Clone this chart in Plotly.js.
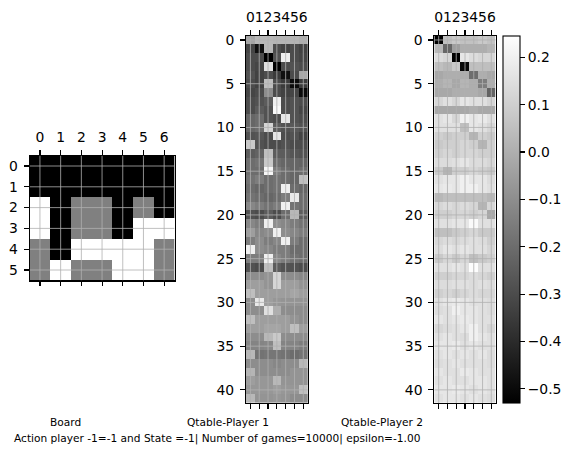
<!DOCTYPE html>
<html>
<head>
<meta charset="utf-8">
<script src="https://cdn.plot.ly/plotly-3.0.1.min.js"></script>
<style>
  body { margin: 0; background: white; }
  #myDiv { width: 574px; height: 454px; }
</style>
</head>
<body>
<div id="myDiv"></div>
<script>
// board + two q tables

var colTicks = [0, 1, 2, 3, 4, 5, 6];
var boardRowTicks = [0, 1, 2, 3, 4, 5];
var qRowTicks = [0, 5, 10, 15, 20, 25, 30, 35, 40];
var cbTicks = [-0.5, -0.4, -0.3, -0.2, -0.1, 0.0, 0.1, 0.2];

var boardTitle = 'Board';
var q1Title = 'Qtable-Player 1';
var q2Title = 'Qtable-Player 2';
var infoText = 'Action player -1=-1 and State =-1| Number of games=10000| epsilon=-1.00';

var board = [
  [-1, -1, -1, -1, -1, -1, -1],
  [-1, -1, -1, -1, -1, -1, -1],
  [ 1, -1,  0,  0, -1,  0, -1],
  [ 1, -1,  0,  0, -1,  1,  1],
  [ 0, -1,  1,  1,  1,  1,  0],
  [ 0,  1,  0,  0,  1,  1,  0]
];

var qtable1 = [
  [-0.03, 0.03, 0.03, 0.02, 0.02, 0.02, 0.00],
  [-0.32, -0.48, 0.03, -0.30, -0.33, -0.30, -0.33],
  [-0.30, -0.30, -0.53, -0.28, 0.20, -0.30, -0.32],
  [-0.30, -0.32, 0.15, -0.53, -0.30, -0.28, -0.30],
  [-0.28, -0.33, -0.30, -0.35, -0.48, -0.30, -0.02],
  [-0.30, -0.33, 0.05, -0.30, -0.35, -0.50, -0.35],
  [-0.32, -0.30, -0.10, -0.30, -0.33, -0.32, -0.50],
  [-0.30, -0.28, -0.25, 0.20, -0.30, -0.28, -0.30],
  [-0.30, -0.25, -0.28, 0.23, -0.30, -0.28, -0.32],
  [-0.22, -0.20, -0.28, -0.30, 0.17, -0.28, -0.30],
  [-0.22, -0.20, 0.12, -0.25, -0.28, -0.26, -0.28],
  [-0.28, -0.27, -0.30, 0.17, -0.30, -0.28, -0.33],
  [0.08, -0.28, -0.30, -0.30, -0.28, -0.30, -0.30],
  [-0.25, -0.23, 0.05, -0.25, -0.25, -0.27, -0.28],
  [-0.20, -0.18, 0.08, -0.20, -0.22, -0.22, -0.23],
  [-0.20, -0.20, 0.22, -0.15, -0.20, -0.22, -0.20],
  [-0.18, -0.15, -0.20, -0.18, -0.20, -0.22, 0.05],
  [-0.20, -0.22, -0.20, -0.18, 0.20, -0.20, -0.22],
  [-0.18, -0.20, -0.22, -0.20, -0.15, 0.18, -0.20],
  [-0.12, -0.15, -0.18, -0.15, 0.20, -0.18, -0.20],
  [-0.28, -0.30, -0.25, -0.30, -0.20, 0.03, -0.25],
  [-0.12, -0.15, 0.20, -0.10, -0.12, -0.15, -0.18],
  [-0.05, -0.12, -0.10, 0.20, -0.10, -0.12, -0.15],
  [-0.15, -0.10, -0.15, -0.12, 0.20, -0.15, -0.20],
  [0.20, -0.10, -0.12, -0.15, -0.15, -0.20, -0.20],
  [-0.15, -0.15, 0.20, -0.12, -0.15, -0.18, -0.20],
  [-0.28, -0.30, 0.05, -0.25, -0.28, -0.28, -0.30],
  [-0.10, -0.10, -0.08, 0.12, -0.10, -0.10, -0.12],
  [-0.05, -0.05, -0.08, 0.12, -0.05, -0.05, -0.08],
  [0.05, -0.05, -0.05, -0.05, -0.05, -0.03, -0.05],
  [-0.10, 0.18, -0.05, -0.07, -0.08, -0.08, -0.08],
  [-0.10, -0.10, 0.15, 0.00, -0.10, -0.10, -0.10],
  [0.05, -0.05, -0.05, -0.05, -0.05, -0.08, -0.10],
  [-0.05, -0.05, -0.03, -0.03, -0.05, 0.05, -0.05],
  [-0.10, -0.10, 0.03, 0.08, -0.10, -0.10, -0.10],
  [-0.13, -0.13, -0.12, 0.05, -0.13, -0.13, -0.15],
  [0.03, -0.18, -0.17, -0.17, -0.18, -0.20, -0.18],
  [-0.10, -0.10, -0.10, -0.12, -0.10, -0.10, 0.03],
  [0.02, -0.10, -0.10, -0.10, -0.10, -0.08, -0.08],
  [-0.05, -0.07, -0.07, 0.03, -0.08, -0.08, -0.08],
  [-0.07, -0.07, -0.07, -0.05, -0.07, -0.07, 0.05],
  [0.03, -0.08, -0.08, -0.07, -0.08, -0.10, -0.10]
];

var qtable2 = [
  [-0.53, 0.05, 0.08, 0.06, 0.06, 0.08, 0.06],
  [0.03, -0.22, -0.05, 0.00, 0.00, 0.00, 0.02],
  [0.14, 0.12, -0.53, 0.17, 0.14, 0.12, 0.12],
  [0.05, 0.03, 0.08, -0.50, 0.05, 0.05, 0.05],
  [-0.02, 0.00, 0.00, 0.00, -0.20, 0.00, -0.02],
  [0.00, 0.02, -0.02, 0.02, 0.00, -0.15, 0.00],
  [-0.02, -0.02, 0.00, 0.00, 0.00, -0.02, -0.23],
  [0.12, 0.15, 0.12, 0.17, 0.15, 0.15, 0.12],
  [-0.02, -0.02, -0.02, -0.02, 0.00, -0.02, -0.02],
  [0.15, 0.17, 0.12, 0.20, 0.17, 0.18, 0.15],
  [0.15, 0.15, 0.15, 0.05, 0.17, 0.15, 0.12],
  [0.10, 0.08, 0.10, 0.10, 0.02, 0.10, 0.08],
  [0.08, 0.10, 0.10, 0.12, 0.10, 0.02, 0.10],
  [0.10, 0.12, 0.10, 0.12, 0.12, 0.10, 0.10],
  [0.14, 0.14, 0.15, 0.17, 0.14, 0.14, 0.12],
  [0.08, 0.02, 0.10, 0.10, 0.12, 0.10, 0.08],
  [0.15, 0.17, 0.17, 0.20, 0.17, 0.17, 0.14],
  [0.17, 0.18, 0.17, 0.20, 0.20, 0.17, 0.15],
  [0.03, 0.05, 0.05, 0.05, 0.05, 0.05, 0.03],
  [0.12, 0.14, 0.12, 0.14, 0.12, 0.02, 0.12],
  [0.10, 0.10, 0.12, 0.12, 0.10, 0.12, -0.02],
  [0.15, 0.15, 0.17, 0.17, 0.23, 0.15, 0.15],
  [0.05, 0.05, 0.08, 0.10, 0.12, 0.08, 0.08],
  [0.12, 0.14, 0.12, 0.14, 0.15, 0.14, 0.10],
  [0.14, 0.17, 0.15, 0.17, 0.15, 0.15, 0.12],
  [0.08, 0.12, 0.08, 0.12, 0.05, 0.08, 0.10],
  [0.15, 0.15, 0.17, 0.15, 0.24, 0.15, 0.15],
  [0.10, 0.10, 0.12, 0.12, 0.14, 0.12, 0.10],
  [0.14, 0.14, 0.15, 0.15, 0.14, 0.15, 0.14],
  [0.10, 0.12, 0.10, 0.12, 0.14, 0.12, 0.12],
  [0.15, 0.17, 0.18, 0.17, 0.15, 0.15, 0.14],
  [0.14, 0.15, 0.20, 0.17, 0.17, 0.15, 0.14],
  [0.17, 0.15, 0.17, 0.18, 0.17, 0.15, 0.15],
  [0.12, 0.14, 0.15, 0.17, 0.20, 0.15, 0.12],
  [0.15, 0.17, 0.15, 0.14, 0.20, 0.17, 0.15],
  [0.17, 0.17, 0.18, 0.15, 0.17, 0.15, 0.15],
  [0.15, 0.17, 0.15, 0.17, 0.15, 0.17, 0.14],
  [0.14, 0.15, 0.17, 0.15, 0.15, 0.15, 0.14],
  [0.17, 0.15, 0.15, 0.18, 0.17, 0.15, 0.15],
  [0.15, 0.17, 0.15, 0.15, 0.17, 0.17, 0.15],
  [0.17, 0.17, 0.18, 0.17, 0.15, 0.17, 0.15],
  [0.15, 0.17, 0.17, 0.15, 0.17, 0.15, 0.14]
];

var W = 574, H = 454;
var grayScale = [[0, 'rgb(0,0,0)'], [1, 'rgb(255,255,255)']];
var tickFont = {family: 'DejaVu Sans', size: 13.9, color: 'black'};
var qMin = -0.53, qMax = 0.245;

function px2x(p) { return p / W; }
function px2y(p) { return 1 - p / H; }

function xAxis(domain, anchor) {
  return {
    domain: domain, anchor: anchor, side: 'top',
    range: [-0.5, 6.5], tickvals: colTicks, ticktext: colTicks.map(String),
    tickangle: 0,
    ticks: 'outside', ticklen: 4.9, tickwidth: 1.1, tickcolor: 'black',
    showline: true, linecolor: 'black', linewidth: 1.1, mirror: 'ticks',
    showgrid: false, zeroline: false, tickfont: tickFont,
    ticklabelstandoff: 2, fixedrange: true
  };
}

function yAxis(domain, anchor, nrows, ticks) {
  return {
    domain: domain, anchor: anchor,
    range: [nrows - 0.5, -0.5], tickvals: ticks, ticktext: ticks.map(String),
    ticks: 'outside', ticklen: 4.9, tickwidth: 1.1, tickcolor: 'black',
    showline: true, linecolor: 'black', linewidth: 1.1, mirror: true,
    showgrid: false, zeroline: false, tickfont: tickFont,
    ticklabelstandoff: 3, fixedrange: true
  };
}

// matplotlib grid sits over the image, so draw it as shapes
function gridShapes(xr, yr, xticks, yticks, nrows) {
  var s = [];
  var line = {color: '#b0b0b0', width: 0.8};
  for (var i = 0; i < xticks.length; i++) {
    s.push({type: 'line', xref: xr, yref: yr, layer: 'above', line: line,
      x0: xticks[i], x1: xticks[i], y0: -0.5, y1: nrows - 0.5});
  }
  for (var j = 0; j < yticks.length; j++) {
    s.push({type: 'line', xref: xr, yref: yr, layer: 'above', line: line,
      x0: -0.5, x1: 6.5, y0: yticks[j], y1: yticks[j]});
  }
  return s;
}

var boardTrace = {
  z: board, type: 'heatmap', xaxis: 'x', yaxis: 'y',
  colorscale: grayScale, zmin: -1, zmax: 1, showscale: false, hoverinfo: 'none'
};
var q1Trace = {
  z: qtable1, type: 'heatmap', xaxis: 'x2', yaxis: 'y2',
  colorscale: grayScale, zmin: qMin, zmax: qMax, showscale: false, hoverinfo: 'none'
};
var q2Trace = {
  z: qtable2, type: 'heatmap', xaxis: 'x3', yaxis: 'y3',
  colorscale: grayScale, zmin: qMin, zmax: qMax, hoverinfo: 'none',
  showscale: true,
  colorbar: {
    x: px2x(503), xanchor: 'left', thickness: 17, thicknessmode: 'pixels',
    y: px2y(403), yanchor: 'bottom', len: (403 - 35.6) / H, lenmode: 'fraction',
    xpad: 0, ypad: 0, outlinewidth: 1.1, outlinecolor: 'black',
    tickvals: cbTicks, tickformat: '.1f', ticks: 'outside', ticklen: 4.9,
    tickwidth: 1.1, tickcolor: 'black', tickfont: tickFont, ticklabelstandoff: 3
  }
};

var qTop = px2y(35.6), qBottom = px2y(403);

var shapes = [].concat(
  gridShapes('x', 'y', colTicks, boardRowTicks, 6),
  gridShapes('x2', 'y2', colTicks, qRowTicks, 42),
  gridShapes('x3', 'y3', colTicks, qRowTicks, 42)
);

var labelFont = {family: 'DejaVu Sans', size: 10.6, color: 'black'};

var layout = {
  width: W, height: H,
  margin: {l: 0, r: 0, t: 0, b: 0},
  paper_bgcolor: 'white', plot_bgcolor: 'white',
  showlegend: false,
  xaxis: xAxis([px2x(29.6), px2x(174.5)], 'y'),
  yaxis: yAxis([px2y(280.4), px2y(155.6)], 'x', 6, boardRowTicks),
  xaxis2: xAxis([px2x(246), px2x(307.7)], 'y2'),
  yaxis2: yAxis([qBottom, qTop], 'x2', 42, qRowTicks),
  xaxis3: xAxis([px2x(434.3), px2x(495.7)], 'y3'),
  yaxis3: yAxis([qBottom, qTop], 'x3', 42, qRowTicks),
  shapes: shapes,
  annotations: [
    {text: boardTitle, xref: 'paper', yref: 'paper', x: px2x(65.5), y: px2y(422),
      xanchor: 'center', yanchor: 'middle', showarrow: false, font: labelFont},
    {text: q1Title, xref: 'paper', yref: 'paper', x: px2x(228), y: px2y(422),
      xanchor: 'center', yanchor: 'middle', showarrow: false, font: labelFont},
    {text: q2Title, xref: 'paper', yref: 'paper', x: px2x(382), y: px2y(422),
      xanchor: 'center', yanchor: 'middle', showarrow: false, font: labelFont},
    {text: infoText, xref: 'paper', yref: 'paper', x: px2x(423), y: px2y(438),
      xanchor: 'right', yanchor: 'middle', showarrow: false, font: labelFont}
  ]
};

Plotly.newPlot('myDiv', [boardTrace, q1Trace, q2Trace], layout, {staticPlot: true});
</script>
</body>
</html>
